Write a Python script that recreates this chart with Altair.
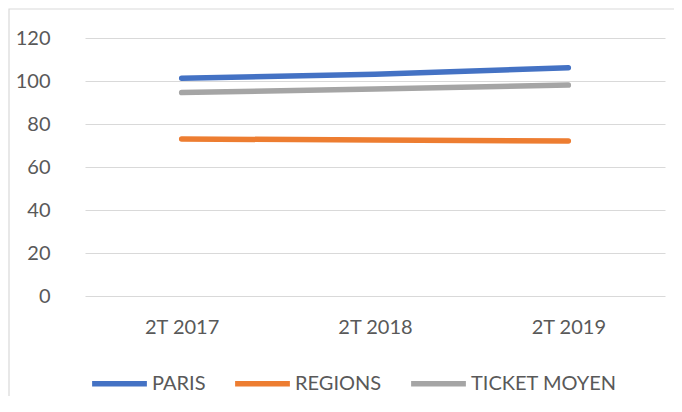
import altair as alt
import pandas as pd

categories = ["2T 2017", "2T 2018", "2T 2019"]
paris = [101.3, 103.1, 106.2]
regions = [73.0, 72.6, 72.1]
ticket = [94.6, 96.3, 98.1]
series_names = ["PARIS", "REGIONS", "TICKET MOYEN"]
colors = ["#4472C4", "#ED7D31", "#A5A5A5"]

rows = []
for name, vals in zip(series_names, [paris, regions, ticket]):
    for c, v in zip(categories, vals):
        rows.append({"cat": c, "val": v, "serie": name})
df = pd.DataFrame(rows)

FONT = "Lato"
GREY = "#595959"
FS = 20

border = alt.Chart(pd.DataFrame({"a": [0]})).mark_rect(
    fill=None, stroke="#D9D9D9", strokeWidth=1.2, clip=False
).encode(
    x=alt.value(-76), x2=alt.value(640), y=alt.value(-29), y2=alt.value(420)
)

lines = alt.Chart(df).mark_line(strokeWidth=5.5, strokeCap="round", strokeJoin="round").encode(
    x=alt.X("cat:N", sort=categories, title=None,
            scale=alt.Scale(paddingOuter=0.5),
            axis=alt.Axis(labelAngle=0, ticks=False, domain=False, grid=False,
                          labelFont=FONT, labelFontSize=FS, labelColor=GREY,
                          labelPadding=21)),
    y=alt.Y("val:Q", title=None,
            scale=alt.Scale(domain=[0, 120]),
            axis=alt.Axis(values=[0, 20, 40, 60, 80, 100, 120], ticks=False, domain=False,
                          gridColor="#D9D9D9", gridWidth=1.2,
                          labelFont=FONT, labelFontSize=FS, labelColor=GREY,
                          labelPadding=35)),
    color=alt.Color("serie:N", sort=series_names, title=None,
                    scale=alt.Scale(domain=series_names, range=colors),
                    legend=alt.Legend(orient="none", legendX=4, legendY=315,
                                      direction="horizontal", symbolType="stroke",
                                      symbolSize=3000, symbolStrokeWidth=5.5,
                                      labelFont=FONT, labelFontSize=FS, labelColor=GREY,
                                      labelOffset=2, columnPadding=18)),
)

chart = alt.layer(border, lines).properties(
    width=580, height=258,
    background="white",
    autosize=alt.AutoSizeParams(type="none"),
    padding={"left": 77, "top": 30, "right": 9, "bottom": 100},
).configure_view(strokeWidth=0, strokeOpacity=0)

chart.save("out.html", embed_options={"renderer": "svg", "actions": False})
